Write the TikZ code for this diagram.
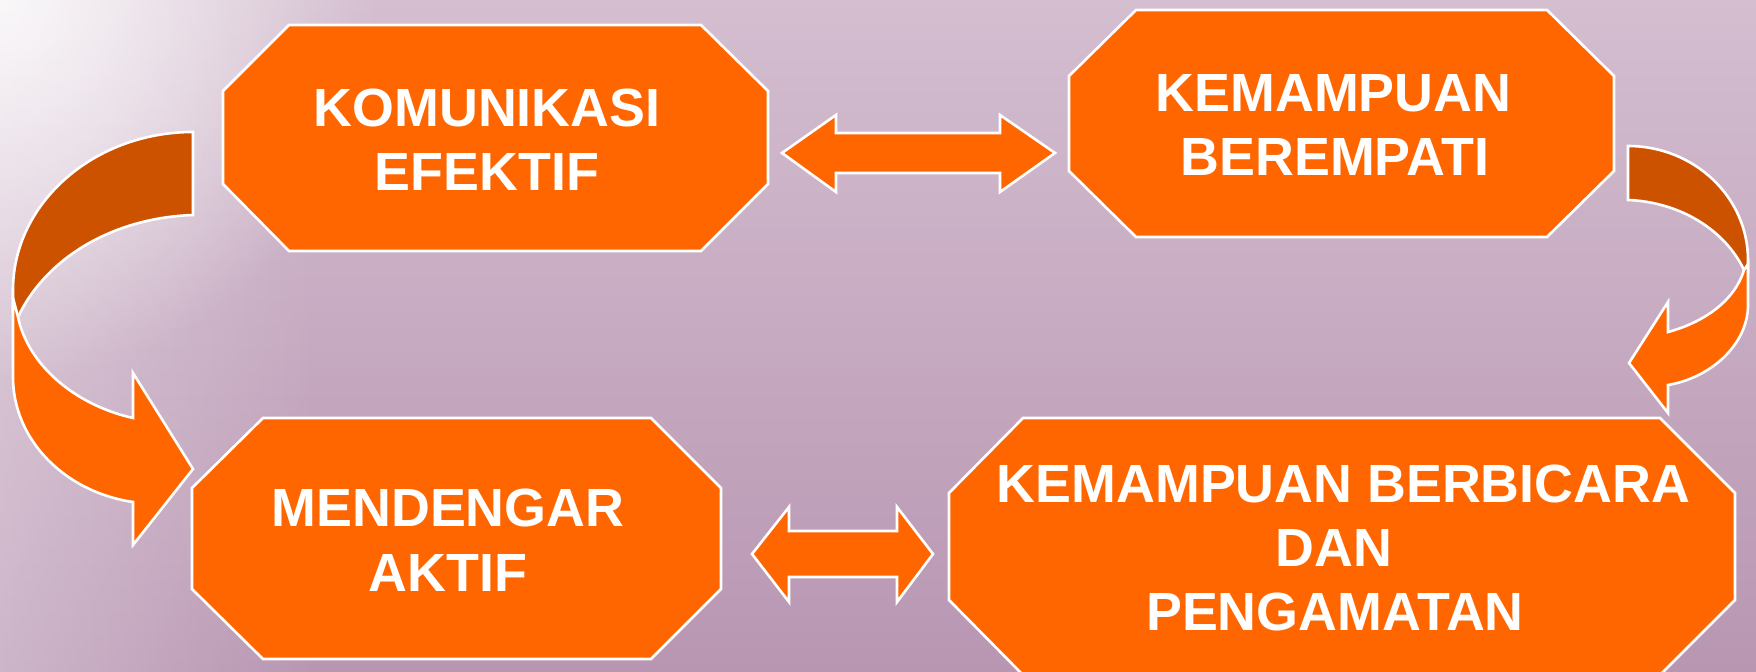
\documentclass[tikz,border=0pt]{standalone}
\usepackage{fontspec}
\setmainfont{Liberation Sans}
\usetikzlibrary{fadings}
\definecolor{boxorange}{RGB}{255,102,0}
\definecolor{backorange}{RGB}{204,82,0}
\definecolor{bgtop}{RGB}{212,190,208}
\definecolor{bgbot}{RGB}{184,150,178}
\tikzfading[name=leftfade, left color=transparent!0, right color=transparent!100]
\tikzfading[name=radfade, inner color=transparent!0, outer color=transparent!100]
\begin{document}
\begin{tikzpicture}[x=0.5pt,y=-0.5pt,
  boxshape/.style={fill=boxorange, draw=white, line width=1.3pt, line join=miter},
  backshape/.style={fill=backorange, draw=white, line width=1.3pt, line join=miter},
  lbl/.style={anchor=base, inner sep=0pt, text=white, font=\fontsize{26.9}{32}\selectfont\bfseries}]
\useasboundingbox (0,0) rectangle (1756,672);
\clip (0,0) rectangle (1756,672);
% background
\shade[top color=bgtop, bottom color=bgbot] (0,0) rectangle (1756,672);
\fill[white, path fading=radfade, fill opacity=0.85] (-380,-380) rectangle (380,380);
\fill[white, path fading=leftfade, fill opacity=0.3] (0,0) rectangle (320,672);

% boxes
\draw[boxshape] (289,25) -- (701,25) -- (768,91) -- (768,184) -- (701,251) -- (289,251) -- (223,184) -- (223,91) -- cycle;
\draw[boxshape] (1136,10) -- (1547,10) -- (1614,76) -- (1614,171) -- (1547,237) -- (1136,237) -- (1069,171) -- (1069,76) -- cycle;
\draw[boxshape] (263,418) -- (651,418) -- (721,488) -- (721,589) -- (651,659) -- (263,659) -- (192,589) -- (192,488) -- cycle;
\draw[boxshape] (1023,418) -- (1660,418) -- (1735,493) -- (1735,600) -- (1660,675) -- (1023,675) -- (949,600) -- (949,493) -- cycle;

% texts
\node[lbl] (t1a) at (487,127) {KOMUNIKASI};
\node[lbl] (t1b) at (487,191) {EFEKTIF};
\node[lbl] (t2a) at (1333.5,112) {KEMAMPUAN};
\node[lbl] (t2b) at (1335,176) {BEREMPATI};
\node[lbl] (t3a) at (448,527) {MENDENGAR};
\node[lbl] (t3b) at (448,592) {AKTIF};
\node[lbl] (t4a) at (1343.5,503) {KEMAMPUAN BERBICARA};
\node[lbl] (t4b) at (1334,567) {DAN};
\node[lbl] (t4c) at (1335,631) {PENGAMATAN};

% double arrows
\draw[boxshape] (782,153) -- (836,115) -- (836,133) -- (1000,133) -- (1000,115) -- (1055,153) -- (1000,192) -- (1000,173) -- (836,173) -- (836,192) -- cycle;
\draw[boxshape] (752,554) -- (789,507) -- (789,531) -- (897,531) -- (897,507) -- (933,554) -- (897,602) -- (897,577) -- (789,577) -- (789,602) -- cycle;

% left curved arrow
\draw[backshape] (193,132) .. controls (94,132) and (13,203) .. (13,290) -- (13,312) -- (18,317) .. controls (45,260) and (110,218) .. (193,215) -- cycle;
\draw[boxshape] (13,298) -- (13,377) .. controls (13,440) and (65,492) .. (133,502) -- (133,545) -- (193,469) -- (133,373) -- (133,418) .. controls (75,405) and (28,365) .. (18,317) -- cycle;

% right curved arrow
\draw[backshape] (1628,146) .. controls (1694,146) and (1748,197) .. (1748,260) -- (1748,272) -- (1744,270) .. controls (1725,230) and (1680,202) .. (1628,200) -- cycle;
\draw[boxshape] (1748,264) -- (1748,305) .. controls (1748,345) and (1710,378) .. (1668,385) -- (1668,413) -- (1629,363) -- (1668,302) -- (1668,332) .. controls (1705,322) and (1735,300) .. (1744,270) -- cycle;
\end{tikzpicture}
\end{document}
